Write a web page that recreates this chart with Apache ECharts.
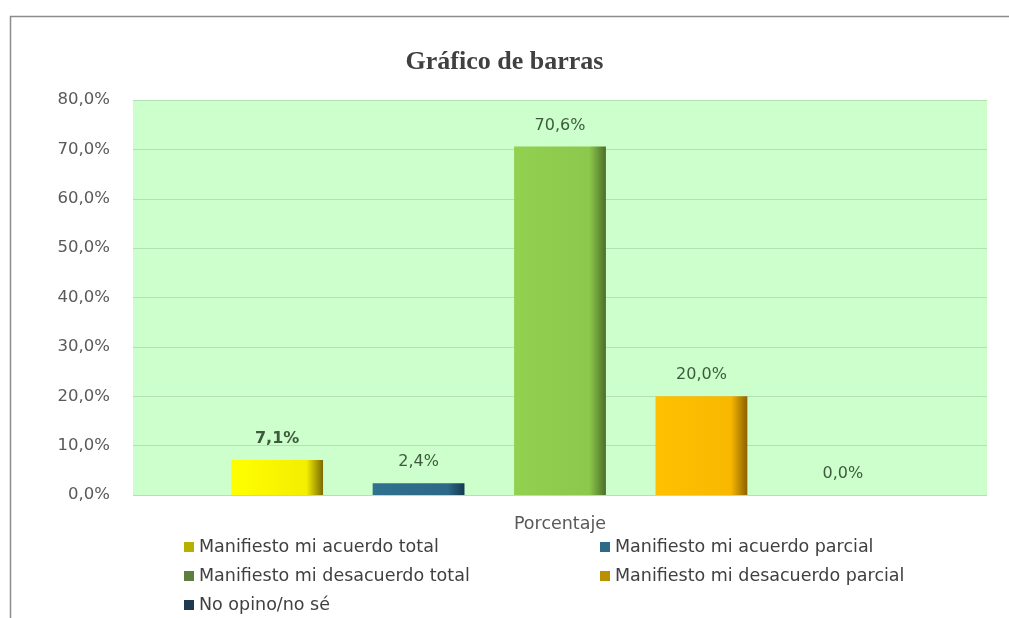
<!DOCTYPE html>
<html>
<head>
<meta charset="utf-8">
<script src="https://cdn.jsdelivr.net/npm/echarts@6/dist/echarts.min.js"></script>
<style>
  html, body { margin: 0; padding: 0; background: #fff; }
  #chart { width: 1009px; height: 618px; }
</style>
</head>
<body>
<div id="chart"></div>
<script>
const CATEGORIES = ['Porcentaje']
const SERIES_NAMES = [
  'Manifiesto mi acuerdo total',
  'Manifiesto mi acuerdo parcial',
  'Manifiesto mi desacuerdo total',
  'Manifiesto mi desacuerdo parcial',
  'No opino/no sé',
]
const VALUES = [7.1, 2.4, 70.6, 20.0, 0.0]
const BAR_COLORS = [
  ['#ffff00', '#f4ee00', '#7a6a00'],
  ['#31708f', '#2d6887', '#163a50'],
  ['#92d050', '#8cc84c', '#4d6e28'],
  ['#ffc000', '#f8b800', '#8a6200'],
  ['#1f3f55', '#1c3a4e', '#0e1f2c'],
]
const LEGEND_COLORS = ['#b8b000', '#2e6a86', '#5e7e40', '#b89000', '#1e3a4e']

const fmt = v => v.toFixed(1).replace('.', ',') + '%'

// sombreado lateral para imitar el efecto 3D de Excel
function barFill(c) {
  return new echarts.graphic.LinearGradient(0, 0, 1, 0, [
    { offset: 0, color: c[0] },
    { offset: 0.82, color: c[1] },
    { offset: 1, color: c[2] },
  ])
}

const chart = echarts.init(document.getElementById('chart'), null, { renderer: 'canvas' })

const series = SERIES_NAMES.map((name, i) => ({
  name,
  type: 'bar',
  data: [VALUES[i]],
  barGap: '54%',
  barCategoryGap: '23%',
  itemStyle: { color: barFill(BAR_COLORS[i]) },
  label: {
    show: true,
    position: 'top',
    distance: 13,
    formatter: p => fmt(p.value),
    color: '#3d5a3d',
    fontSize: 16,
    fontWeight: i === 0 ? 'bold' : 'normal',
    fontFamily: 'DejaVu Sans',
  },
}))

const legendText = { fontSize: 17.5, color: '#404040', fontFamily: 'DejaVu Sans' }
const legendItem = i => ({ name: SERIES_NAMES[i], itemStyle: { color: LEGEND_COLORS[i] } })

chart.setOption({
  animation: false,
  backgroundColor: '#fff',
  title: {
    text: 'Gráfico de barras',
    left: 'center',
    top: 44,
    textStyle: { fontFamily: 'Liberation Serif', fontSize: 26, fontWeight: 'bold', color: '#404040' },
  },
  graphic: [{
    type: 'rect',
    left: 8, top: 14,
    shape: { width: 1200, height: 800 },
    style: { fill: 'none', stroke: '#8c8c8c', lineWidth: 1.5 },
    silent: true,
  }],
  grid: {
    left: 133, right: 22, top: 100, bottom: 123,
    show: true, backgroundColor: '#ccffcc', borderWidth: 0,
  },
  legend: [
    {
      data: [legendItem(0), legendItem(2), legendItem(4)],
      orient: 'vertical', left: 184, top: 538, height: 120, itemGap: 11,
      itemWidth: 10, itemHeight: 10, icon: 'rect', padding: 0,
      textStyle: legendText,
    },
    {
      data: [legendItem(1), legendItem(3)],
      orient: 'vertical', left: 600, top: 538, height: 120, itemGap: 11,
      itemWidth: 10, itemHeight: 10, icon: 'rect', padding: 0,
      textStyle: legendText,
    },
  ],
  xAxis: {
    type: 'category',
    data: CATEGORIES,
    axisLine: { show: false },
    axisTick: { show: false },
    axisLabel: { color: '#595959', fontSize: 17.5, margin: 20, fontFamily: 'DejaVu Sans' },
  },
  yAxis: {
    type: 'value',
    min: 0, max: 80, interval: 10,
    axisLine: { show: false },
    axisTick: { show: false },
    axisLabel: { formatter: fmt, color: '#595959', fontSize: 16.5, margin: 23, fontFamily: 'DejaVu Sans' },
    splitLine: { lineStyle: { color: '#b4e0b4', width: 1 } },
  },
  series,
})
</script>
</body>
</html>
